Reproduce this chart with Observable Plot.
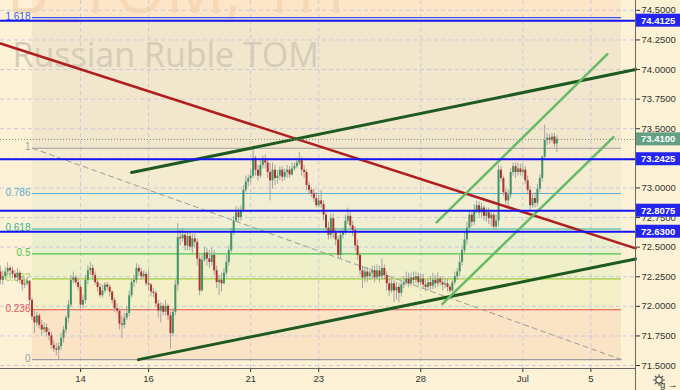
<!DOCTYPE html>
<html><head><meta charset="utf-8">
<script src="https://cdn.jsdelivr.net/npm/d3@7"></script>
<script src="https://cdn.jsdelivr.net/npm/@observablehq/plot@0.6"></script>
<style>
html,body{margin:0;padding:0;background:#fdf2d5;}
#chart{width:680px;height:390px;overflow:hidden;}
</style></head><body><div id="chart"></div>
<script>
// ---- data (hourly candles, bar index starts at firstBar) ----
const firstBar = 9;
const opens = [
72.29,72.22,72.25,72.29,72.32,72.30,72.27,72.24,72.28,72.22,
72.18,72.19,72.21,72.05,71.91,71.86,71.92,71.84,71.80,71.82,
71.78,71.75,71.67,71.64,71.63,71.66,71.73,71.80,71.90,72.01,
72.22,72.24,72.20,72.16,72.01,72.05,72.22,72.30,72.32,72.26,
72.20,72.16,72.09,72.13,72.18,72.16,72.12,72.05,71.98,71.96,
71.85,71.84,71.90,71.94,72.09,72.20,72.22,72.32,72.29,72.25,
72.27,72.19,72.18,72.12,72.11,72.02,71.96,72.00,71.95,72.00,
71.92,71.77,71.95,72.18,72.58,72.57,72.60,72.51,72.59,72.50,
72.57,72.54,72.40,72.13,72.39,72.45,72.40,72.37,72.43,72.30,
72.20,72.22,72.19,72.28,72.37,72.47,72.62,72.72,72.79,72.75,
72.81,72.98,73.05,73.08,73.10,73.25,73.15,73.10,73.19,73.23,
73.21,73.13,73.06,73.15,73.08,73.10,73.15,73.09,73.13,73.15,
73.11,73.16,73.18,73.21,73.23,73.15,73.13,73.02,72.98,72.95,
72.91,72.85,72.89,72.86,72.77,72.66,72.60,72.74,72.62,72.56,
72.43,72.60,72.62,72.72,72.76,72.68,72.64,72.51,72.43,72.30,
72.24,72.29,72.25,72.28,72.30,72.24,72.30,72.25,72.32,72.26,
72.19,72.13,72.19,72.13,72.16,72.11,72.18,72.20,72.23,72.19,
72.24,72.22,72.25,72.20,72.23,72.18,72.16,72.20,72.17,72.22,
72.19,72.23,72.20,72.18,72.19,72.16,72.13,72.20,72.25,72.29,
72.37,72.47,72.56,72.66,72.77,72.71,72.81,72.85,72.79,72.83,
72.76,72.79,72.74,72.77,72.67,72.72,73.15,73.08,72.96,72.89,
72.94,73.13,73.18,73.13,73.16,73.13,73.15,73.06,72.98,72.85,
72.91,72.87,72.99,73.08,73.26,73.40,73.42,73.40,73.43,73.37];
const highs = [
72.34,72.30,72.33,72.37,72.34,72.33,72.30,72.32,72.30,72.25,
72.23,72.24,72.22,72.07,71.96,71.95,71.94,71.88,71.86,71.85,
71.81,71.78,71.71,71.69,71.69,71.77,71.83,71.92,72.05,72.26,
72.29,72.26,72.23,72.18,72.09,72.26,72.34,72.37,72.35,72.29,
72.23,72.19,72.18,72.20,72.20,72.18,72.13,72.07,72.02,71.98,
71.92,71.94,72.00,72.13,72.23,72.26,72.36,72.35,72.32,72.30,
72.29,72.30,72.19,72.15,72.13,72.05,72.03,72.02,72.05,72.02,
71.95,71.98,72.22,72.70,72.64,72.66,72.62,72.62,72.62,72.61,
72.61,72.57,72.43,72.43,72.50,72.49,72.47,72.49,72.47,72.34,
72.26,72.28,72.32,72.43,72.51,72.66,72.76,72.84,72.83,72.85,
73.02,73.10,73.11,73.15,73.33,73.27,73.19,73.23,73.27,73.28,
73.25,73.21,73.21,73.19,73.15,73.18,73.18,73.16,73.19,73.18,
73.21,73.21,73.25,73.30,73.26,73.19,73.15,73.05,73.00,72.99,
72.96,72.94,72.98,72.89,72.79,72.71,72.78,72.78,72.66,72.59,
72.64,72.66,72.77,72.83,72.79,72.72,72.67,72.56,72.45,72.34,
72.32,72.33,72.32,72.34,72.34,72.35,72.34,72.40,72.35,72.29,
72.23,72.23,72.22,72.20,72.19,72.22,72.25,72.29,72.28,72.28,
72.29,72.29,72.28,72.27,72.27,72.22,72.23,72.25,72.28,72.26,
72.28,72.25,72.24,72.23,72.23,72.18,72.22,72.29,72.32,72.43,
72.51,72.62,72.71,72.81,72.79,72.86,72.89,72.88,72.87,72.85,
72.83,72.83,72.81,72.79,72.77,73.19,73.18,73.10,72.99,72.98,
73.16,73.21,73.21,73.21,73.20,73.20,73.18,73.10,73.01,72.95,
72.96,73.03,73.11,73.27,73.53,73.46,73.45,73.46,73.46,73.44];
const lows = [
72.18,72.18,72.22,72.26,72.25,72.23,72.22,72.20,72.19,72.13,
72.15,72.17,72.01,71.88,71.77,71.83,71.81,71.75,71.77,71.74,
71.71,71.64,71.61,71.58,71.55,71.63,71.69,71.77,71.86,71.99,
72.19,72.18,72.13,71.98,71.98,72.02,72.18,72.26,72.22,72.18,
72.12,72.07,72.07,72.11,72.13,72.08,72.02,71.95,71.94,71.80,
71.73,71.81,71.88,71.91,72.07,72.16,72.19,72.25,72.22,72.23,
72.17,72.13,72.08,72.07,71.99,71.90,71.86,71.92,71.92,71.88,
71.64,71.74,71.92,72.13,72.51,72.54,72.47,72.47,72.47,72.45,
72.49,72.34,72.09,72.12,72.37,72.34,72.32,72.34,72.26,72.15,
72.09,72.12,72.18,72.26,72.34,72.45,72.60,72.71,72.71,72.72,
72.79,72.96,73.01,73.04,73.08,73.10,73.06,73.08,73.16,73.16,
73.08,72.89,72.99,73.02,73.03,73.06,73.05,73.06,73.08,73.08,
73.10,73.14,73.16,73.19,73.10,73.08,72.98,72.94,72.92,72.88,
72.83,72.83,72.83,72.72,72.62,72.56,72.57,72.57,72.51,72.40,
72.40,72.57,72.60,72.69,72.64,72.59,72.47,72.39,72.26,72.15,
72.20,72.20,72.22,72.23,72.20,72.22,72.20,72.22,72.22,72.13,
72.08,72.11,72.03,72.05,72.03,72.08,72.15,72.17,72.16,72.17,
72.18,72.19,72.17,72.17,72.15,72.12,72.13,72.13,72.14,72.15,
72.16,72.17,72.13,72.15,72.12,72.11,72.12,72.18,72.22,72.25,
72.34,72.44,72.52,72.62,72.67,72.68,72.78,72.75,72.74,72.72,
72.71,72.69,72.67,72.64,72.64,72.67,73.05,72.93,72.85,72.84,
72.91,73.10,73.08,73.10,73.10,73.10,73.03,72.94,72.81,72.83,
72.83,72.84,72.96,73.05,73.23,73.36,73.37,73.38,73.34,73.30];
const closes = [
72.22,72.25,72.29,72.32,72.30,72.27,72.24,72.28,72.22,72.18,
72.19,72.21,72.05,71.91,71.86,71.92,71.84,71.80,71.82,71.78,
71.75,71.67,71.64,71.63,71.66,71.73,71.80,71.90,72.01,72.22,
72.24,72.20,72.16,72.01,72.05,72.22,72.30,72.32,72.26,72.20,
72.16,72.09,72.13,72.18,72.16,72.12,72.05,71.98,71.96,71.85,
71.84,71.90,71.94,72.09,72.20,72.22,72.32,72.29,72.25,72.27,
72.19,72.18,72.12,72.11,72.02,71.96,72.00,71.95,72.00,71.92,
71.77,71.95,72.18,72.58,72.57,72.60,72.51,72.59,72.50,72.57,
72.54,72.40,72.13,72.39,72.45,72.40,72.37,72.43,72.30,72.20,
72.22,72.19,72.28,72.37,72.47,72.62,72.72,72.79,72.75,72.81,
72.98,73.05,73.08,73.10,73.25,73.15,73.10,73.19,73.23,73.21,
73.13,73.06,73.15,73.08,73.10,73.15,73.09,73.13,73.15,73.11,
73.16,73.18,73.21,73.23,73.15,73.13,73.02,72.98,72.95,72.91,
72.85,72.89,72.86,72.77,72.66,72.60,72.74,72.62,72.56,72.43,
72.60,72.62,72.72,72.76,72.68,72.64,72.51,72.43,72.30,72.24,
72.29,72.25,72.28,72.30,72.24,72.30,72.25,72.32,72.26,72.19,
72.13,72.19,72.13,72.16,72.11,72.18,72.20,72.23,72.19,72.24,
72.22,72.25,72.20,72.23,72.18,72.16,72.20,72.17,72.22,72.19,
72.23,72.20,72.18,72.19,72.16,72.13,72.20,72.25,72.29,72.37,
72.47,72.56,72.66,72.77,72.71,72.81,72.85,72.79,72.83,72.76,
72.79,72.74,72.77,72.67,72.72,73.15,73.08,72.96,72.89,72.94,
73.13,73.18,73.13,73.16,73.13,73.15,73.06,72.98,72.85,72.91,
72.87,72.99,73.08,73.26,73.40,73.42,73.40,73.43,73.37,73.41];

const dateTickBars = [42, 70, 112, 140, 182, 224, 252];
const dateTickLabels = ["14", "16", "21", "23", "28", "Jul", "5"];
const priceTicks = [71.5, 71.75, 72, 72.25, 72.5, 72.75, 73, 73.25, 73.5, 73.75, 74, 74.25, 74.5];

const fibLevels = [0, 0.236, 0.382, 0.5, 0.618, 0.786, 1, 1.618, 2.618];
const fibLabels = ["0", "0.236", "0.382", "0.5", "0.618", "0.786", "1", "1.618"];
const fibLow = 71.55, fibHigh = 73.335;
const fibStartBar = 22.2, fibEndBar = 264.6;

const levelPrices = [74.4125, 73.2425, 72.8075, 72.63];
const lastPrice = 73.41;

const redTrend = [[9.05, 74.22], [270.4, 72.49]];
const greenUpper = [[62.96, 73.13], [270.4, 74.00]];
const greenLower = [[65.8, 71.55], [270.4, 72.40]];
const channelUpper = [[188.5, 72.71], [258.8, 74.13]];
const channelLower = [[190.9, 72.02], [261.3, 73.43]];

const symbolWatermark = "USDRUB_TOM, 1H";
const nameWatermark = "Russian Ruble TOM";

// ---- styles ----
const zoneFills = ["#fbe3c6", "#f4efc7", "#eff0c9", "#eaefcf", "#f1eed3", "#f4ebd0", "#f2e6cc", "#fde6c8"];
const fibColors = ["#9e9e9e", "#e05555", "#a2cf3e", "#4cc44c", "#2fb39c", "#5eaed6", "#9e9e9e", "#3d5afe"];
const FONT = "'Liberation Sans', Arial, sans-serif";

const candles = closes.map((c, i) => ({g: firstBar + i, open: opens[i], high: highs[i], low: lows[i], close: c}));
const fp = lv => fibLow + lv * (fibHigh - fibLow);
const zones = fibLevels.slice(0, -1).map((lv, i) => ({lo: fp(lv), hi: fp(fibLevels[i + 1]), fill: zoneFills[i]}));
const fibLines = fibLabels.map((t, i) => ({price: fp(fibLevels[i]), label: t, color: fibColors[i]}));
const labelMap = new Map(dateTickBars.map((b, i) => [b, dateTickLabels[i]]));

const chart = Plot.plot({
  width: 680, height: 390,
  marginLeft: 0, marginRight: 45, marginTop: 0, marginBottom: 22,
  style: {background: "#fdf2d5", fontFamily: FONT, fontSize: "9.5px", color: "#333"},
  x: {type: "linear", domain: [9.05, 270.37]},
  y: {domain: [71.475, 74.583]},
  marks: [
    Plot.rect(zones, {x1: fibStartBar, x2: fibEndBar, y1: "lo", y2: "hi", fill: "fill", clip: true}),
    Plot.ruleY(priceTicks, {stroke: "#c9c9da", strokeDasharray: "4,3"}),
    Plot.ruleX(dateTickBars, {stroke: "#c9c9da", strokeDasharray: "4,3"}),
    Plot.text([symbolWatermark], {frameAnchor: "top-left", dx: 345, dy: -34, textAnchor: "end", lineAnchor: "top",
      fontSize: 66, fill: "#f2cfa6", fillOpacity: 0.6, fontFamily: "'Open Sans', sans-serif"}),
    Plot.text([nameWatermark], {frameAnchor: "top-left", dx: 12, dy: 42, textAnchor: "start", lineAnchor: "top",
      fontSize: 34, fill: "#d5ccba", fontFamily: "'Open Sans', sans-serif"}),
    Plot.ruleY(fibLines, {y: "price", x1: fibStartBar, x2: fibEndBar, stroke: "color", strokeWidth: 1.2}),
    Plot.line([[fibStartBar, fibHigh], [fibEndBar, fibLow]], {stroke: "#9a9a9a", strokeDasharray: "5,4", strokeWidth: 1}),
    Plot.text(fibLines, {x: fibStartBar, y: "price", text: "label", fill: "color", textAnchor: "end", dx: -2, dy: -1, fontSize: 10}),
    Plot.ruleX(candles, {x: "g", y1: "low", y2: "high", stroke: "#a3a3a3", strokeWidth: 1}),
    Plot.ruleX(candles.filter(d => d.close >= d.open), {x: "g", y1: "open", y2: "close", stroke: "#3f9566", strokeWidth: 2}),
    Plot.ruleX(candles.filter(d => d.close < d.open), {x: "g", y1: "open", y2: "close", stroke: "#b3302a", strokeWidth: 2}),
    Plot.line(redTrend, {stroke: "#b01e1e", strokeWidth: 2.5}),
    Plot.line(greenUpper, {stroke: "#1d5a20", strokeWidth: 3}),
    Plot.line(greenLower, {stroke: "#1d5a20", strokeWidth: 3}),
    Plot.line(channelUpper, {stroke: "#66bb66", strokeWidth: 2.5}),
    Plot.line(channelLower, {stroke: "#66bb66", strokeWidth: 2.5}),
    Plot.ruleY(levelPrices, {stroke: "#1414f5", strokeWidth: 2}),
    Plot.ruleY([lastPrice], {stroke: "#6f8f80", strokeDasharray: "1,2"}),
    Plot.axisY({ticks: priceTicks, anchor: "right", tickFormat: d => d.toFixed(4), tickSize: 4, tickPadding: 2, fontSize: 9.5}),
    Plot.axisX({ticks: dateTickBars, tickFormat: d => labelMap.get(d), tickSize: 4, tickPadding: 3, fontSize: 9.5})
  ]
});
document.getElementById("chart").appendChild(chart);

// ---- price-scale decorations using the chart's own scales ----
const svg = d3.select(chart);
const ys = chart.scale("y"), xs = chart.scale("x");
const xr = xs.range[1], yb = ys.range[0];
svg.append("line").attr("x1", xr + 0.5).attr("x2", xr + 0.5).attr("y1", 0).attr("y2", 390).attr("stroke", "#666");
svg.append("line").attr("x1", 0).attr("x2", xr).attr("y1", yb + 0.5).attr("y2", yb + 0.5).attr("stroke", "#666");
function priceBox(v, fill) {
  const y = ys.apply(v);
  svg.append("rect").attr("x", xr + 1).attr("y", y - 6.5).attr("width", 45).attr("height", 13).attr("fill", fill);
  svg.append("text").attr("x", xr + 6).attr("y", y + 3.5).attr("text-anchor", "start").attr("fill", "white")
    .attr("font-weight", "bold").attr("font-size", 9.5).attr("font-family", FONT).text(v.toFixed(4));
}
levelPrices.forEach(v => priceBox(v, "#2424f4"));
priceBox(lastPrice, "#629f83");
// settings (gear) icon drawn as shapes
const gear = svg.append("g").attr("transform", "translate(659,380)").attr("stroke", "#555").attr("fill", "none").attr("stroke-width", 1.2);
gear.append("circle").attr("r", 3.2);
for (let k = 0; k < 8; k++) {
  const a = k * Math.PI / 4;
  gear.append("line").attr("x1", 3.6 * Math.cos(a)).attr("y1", 3.6 * Math.sin(a))
    .attr("x2", 5.8 * Math.cos(a)).attr("y2", 5.8 * Math.sin(a));
}
</script>
</body></html>
